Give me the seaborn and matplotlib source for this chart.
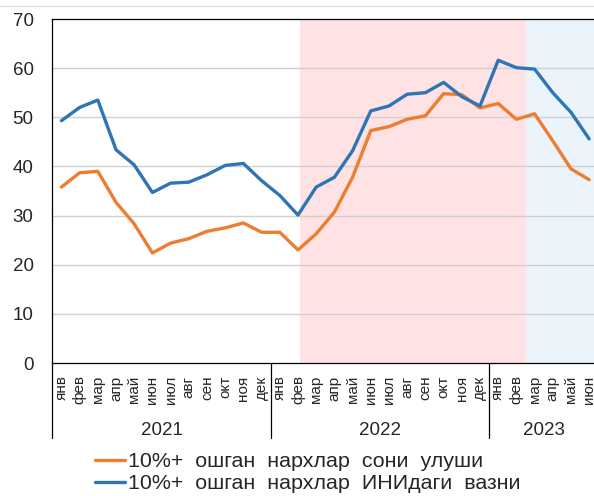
import numpy as np
import pandas as pd
import matplotlib
matplotlib.use("Agg")
import matplotlib.pyplot as plt
import matplotlib.transforms as mtransforms
from matplotlib.lines import Line2D
import seaborn as sns

# data
month_names = ['янв', 'фев', 'мар', 'апр', 'май', 'июн',
               'июл', 'авг', 'сен', 'окт', 'ноя', 'дек']
months = month_names * 2 + month_names[:6]
years = ['2021', '2022', '2023']
year_len = [12, 12, 6]

share = [35.8, 38.7, 39.0, 32.7, 28.3, 22.4, 24.4, 25.3, 26.8, 27.5, 28.5, 26.6,
         26.6, 23.0, 26.3, 30.7, 37.8, 47.3, 48.1, 49.6, 50.3, 54.8, 54.6, 51.9,
         52.8, 49.6, 50.7, 45.2, 39.5, 37.3]
weight = [49.3, 52.0, 53.5, 43.4, 40.3, 34.7, 36.6, 36.8, 38.3, 40.2, 40.6, 37.1,
          34.1, 30.1, 35.8, 37.8, 43.2, 51.3, 52.3, 54.7, 55.0, 57.1, 54.2, 52.3,
          61.6, 60.1, 59.8, 55.0, 51.0, 45.6]
labels = ['10%+  ошган  нархлар  сони  улуши', '10%+  ошган  нархлар  ИНИдаги  вазни']

sns.set_style("white")
plt.rcParams['font.family'] = ['Liberation Sans', 'DejaVu Sans']

df = pd.DataFrame({'pos': list(range(len(months))) * 2,
                   'value': share + weight,
                   'series': [labels[0]] * len(share) + [labels[1]] * len(weight)})

fig = plt.figure(figsize=(5.94, 4.96), dpi=100)
ax = fig.add_axes([52.3 / 594, 133 / 496, 546 / 594, 344 / 496])

# shaded periods
ax.axvspan(13.1, 25.55, color='#FFE2E4', lw=0, zorder=0)
ax.axvspan(25.55, 29.5, color='#EBF3FB', lw=0, zorder=0)

for v in range(10, 70, 10):
    ax.axhline(v, color='#D0D0D0', lw=1.0, zorder=1)

sns.lineplot(data=df, x='pos', y='value', hue='series',
             palette=['#ED7D31', '#2E75B6'], lw=2.4, ax=ax,
             legend=False, zorder=3)
for l in ax.lines[-2:]:
    l.set_solid_joinstyle('round')
    l.set_solid_capstyle('round')

ax.set_xlim(-0.5, 29.5)
ax.set_ylim(0, 70)
ax.set_yticks(range(0, 71, 10))
ax.set_xticks(range(len(months)))
ax.set_xticklabels(months, rotation=90, fontsize=11)
ax.tick_params(axis='x', length=0, pad=9)
ax.tick_params(axis='y', length=0, pad=13.5, labelsize=13.5)
ax.set_xlabel('')
ax.set_ylabel('')
for s in ['left', 'bottom', 'top']:
    ax.spines[s].set_color('black')
    ax.spines[s].set_linewidth(0.9)
ax.spines['right'].set_visible(False)

# year groups under the month labels
trans = mtransforms.blended_transform_factory(ax.transData, ax.transAxes)
start = -0.5
for yr, n in zip(years, year_len):
    ax.add_line(Line2D([start, start], [0, -0.218], transform=trans,
                       color='black', lw=0.9, clip_on=False))
    ax.text(start + n / 2, -0.195, yr, transform=trans, ha='center',
            va='center', fontsize=13.5)
    start += n

fig.add_artist(Line2D([0, 1], [1 - 6 / 496] * 2, transform=fig.transFigure,
                      color='#D9D9D9', lw=0.8))

handles = [Line2D([], [], color='#ED7D31', lw=2.4),
           Line2D([], [], color='#2E75B6', lw=2.4)]
fig.legend(handles, labels, loc='upper left', bbox_to_anchor=(95 / 594, 1 - 452 / 496),
           frameon=False, fontsize=15.4, handlelength=1.4, handletextpad=0.12,
           labelspacing=0.15, borderpad=0, borderaxespad=0)

fig.savefig('out.png', dpi=100)
